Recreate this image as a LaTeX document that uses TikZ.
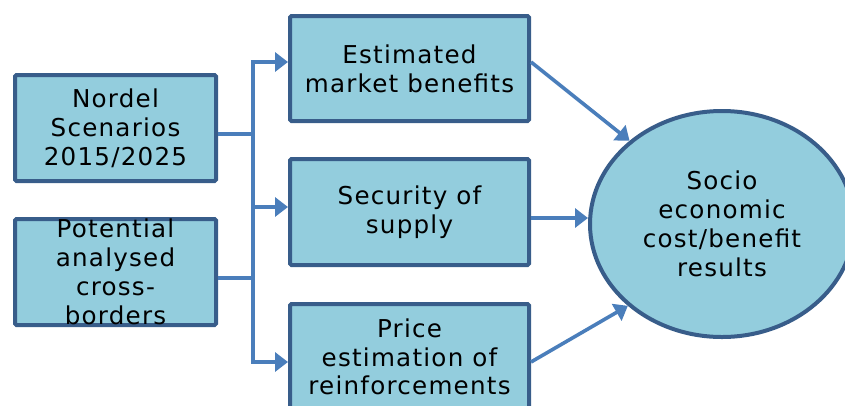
\documentclass[tikz,border=0pt]{standalone}
\usepackage{fontspec}
\setmainfont{DejaVu Sans}[LetterSpace=5]
\usetikzlibrary{arrows.meta,shapes.geometric}
\definecolor{boxfill}{HTML}{93CDDD}
\definecolor{boxline}{HTML}{385D8A}
\definecolor{arrowc}{HTML}{4A7EBB}
\begin{document}
\begin{tikzpicture}[x=1pt,y=-1pt,
  box/.style={draw=boxline,fill=boxfill,line width=4pt,rectangle,rounded corners=1.5pt,
    align=center,inner sep=0pt,font=\fontsize{24.6}{28.8}\selectfont},
  link/.style={draw=arrowc,line width=3.6pt},
  arr/.style={link,-{Triangle[length=13pt,width=19pt]}}]
\useasboundingbox (0,0) rectangle (845,405);
\clip (0,0) rectangle (845,405);
% left boxes
\node[box,minimum width=201pt,minimum height=106pt] (lb1) at (115.5,128) {Nordel\\Scenarios\\2015/2025};
\node[box,minimum width=201pt,minimum height=106pt] (lb2) at (115.5,272) {Potential\\analysed\\cross-\\borders};
% middle boxes
\node[box,minimum width=239pt,minimum height=105pt] (mb1) at (409.5,68.5) {Estimated\\market benefits};
\node[box,minimum width=239pt,minimum height=106pt] (mb2) at (409.5,212) {Security of\\supply};
\node[box,minimum width=239pt,minimum height=106pt] (mb3) at (409.5,357) {Price\\estimation of\\reinforcements};
% ellipse
\node[box,ellipse,rounded corners=0pt,minimum width=264pt,minimum height=226pt] (el) at (722,224) {Socio\\economic\\cost/benefit\\results};
% bus
\coordinate (bt) at (253,62);
\coordinate (bm) at (253,207);
\coordinate (bb) at (253,362);
\coordinate (j1) at (253,134);
\coordinate (j2) at (253,278);
\draw[link] (bt) -- (bb);
\draw[link] (lb1.east |- j1) -- (j1);
\draw[link] (lb2.east |- j2) -- (j2);
\draw[arr] ([xshift=-1.8pt]bt) -- (mb1.west |- bt);
\draw[arr] (bm) -- (mb2.west |- bm);
\draw[arr] ([xshift=-1.8pt]bb) -- (mb3.west |- bb);
% to ellipse
\coordinate (r1) at (531,62);
\coordinate (r2) at (531,218);
\coordinate (r3) at (531,362);
\draw[arr] (mb1.east |- r1) -- (el.138);
\draw[arr] (mb2.east |- r2) -- (el.west |- r2);
\draw[arr] (mb3.east |- r3) -- (el.221);
\end{tikzpicture}
\end{document}
